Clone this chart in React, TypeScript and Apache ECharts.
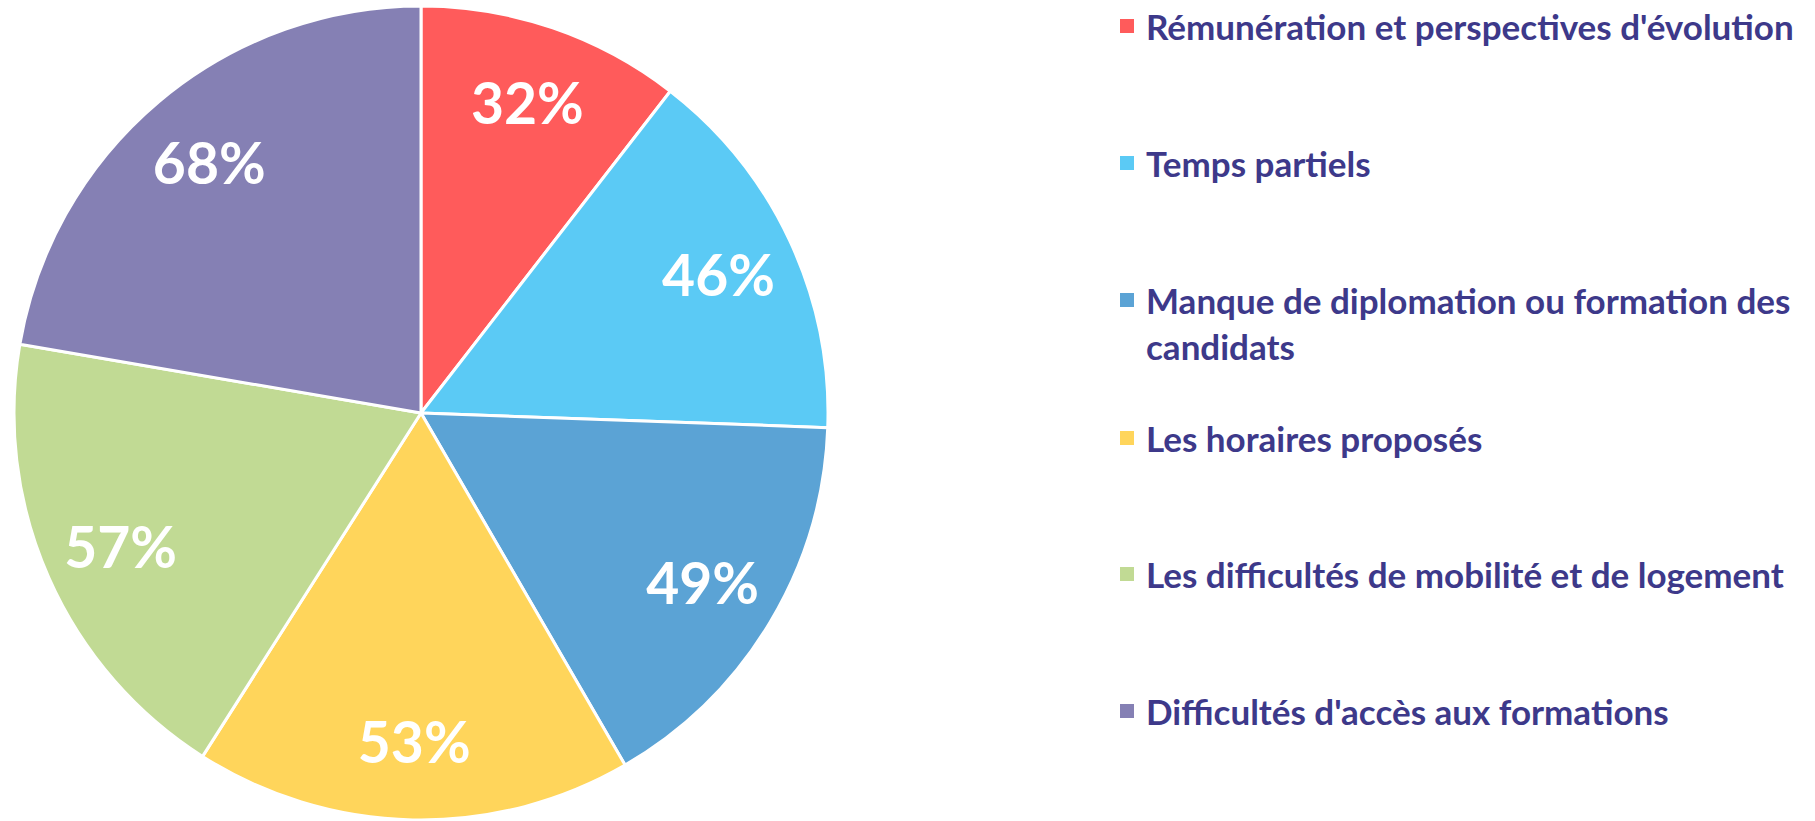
import React, { useEffect, useRef } from "react";
import * as echarts from "echarts";

const categories = [
  "Rémunération et perspectives d'évolution",
  "Temps partiels",
  "Manque de diplomation ou formation des candidats",
  "Les horaires proposés",
  "Les difficultés de mobilité et de logement",
  "Difficultés d'accès aux formations",
];
const legendLabels = [
  "Rémunération et perspectives d'évolution",
  "Temps partiels",
  "Manque de diplomation ou formation des\ncandidats",
  "Les horaires proposés",
  "Les difficultés de mobilité et de logement",
  "Difficultés d'accès aux formations",
];
const values = [32, 46, 49, 53, 57, 68];
const colors = ["#FF5B5B", "#5BCAF5", "#5BA3D5", "#FFD55B", "#C1DA94", "#8580B4"];

const TEXT_COLOR = "#3D398A";
const FONT = "Lato, 'Open Sans', sans-serif";

export default function App() {
  const ref = useRef<HTMLDivElement>(null);
  useEffect(() => {
    document.body.style.margin = "0";
    const chart = echarts.init(ref.current!, null, { renderer: "svg" });
    const data = categories.map((name, i) => ({
      name,
      value: values[i],
      itemStyle: { color: colors[i] },
    }));
    const centers = [26, 163, 300, 438, 574, 711];
    const LH = 46;
    const legends = categories.map((name, i) => {
      const lines = legendLabels[i].split("\n");
      const n = lines.length;
      // pad with blank lines on top so the first line stays aligned with the icon
      const text = n > 1 ? Array(n - 1).fill(" ").concat(lines).join("\n") : lines[0];
      const boxH = LH * (2 * n - 1);
      return {
        orient: "vertical",
        left: 1118,
        top: centers[i] - boxH / 2,
        padding: 0,
        itemWidth: 16,
        itemHeight: 16,
        icon: "rect",
        selectedMode: false,
        data: [{ name, itemStyle: { color: colors[i] } }],
        formatter: () => text,
        textStyle: {
          color: TEXT_COLOR,
          fontFamily: FONT,
          fontWeight: "bold",
          fontSize: 35,
          lineHeight: LH,
          padding: [0, 0, 0, 6],
        },
      };
    });
    chart.setOption({
      animation: false,
      legend: legends,
      series: [
        {
          type: "pie",
          center: [421, 413],
          radius: [0, 407],
          startAngle: 90,
          clockwise: true,
          data,
          label: { show: false },
          labelLine: { show: false },
          itemStyle: { borderColor: "#ffffff", borderWidth: 3 },
          emphasis: { disabled: true },
          silent: true,
        },
        {
          type: "pie",
          center: [421, 413],
          radius: [244, 407],
          startAngle: 90,
          clockwise: true,
          data: data.map((d) => ({ name: d.name, value: d.value, itemStyle: { color: "transparent" } })),
          itemStyle: { borderWidth: 0 },
          label: {
            show: true,
            position: "inside",
            formatter: "{c}%",
            color: "#ffffff",
            fontFamily: FONT,
            fontWeight: "bold",
            fontSize: 57,
          },
          labelLine: { show: false },
          emphasis: { disabled: true },
          silent: true,
        },
      ],
    });
    return () => chart.dispose();
  }, []);
  return <div ref={ref} style={{ position: "absolute", left: 0, top: 0, width: 1815, height: 821 }} />;
}
